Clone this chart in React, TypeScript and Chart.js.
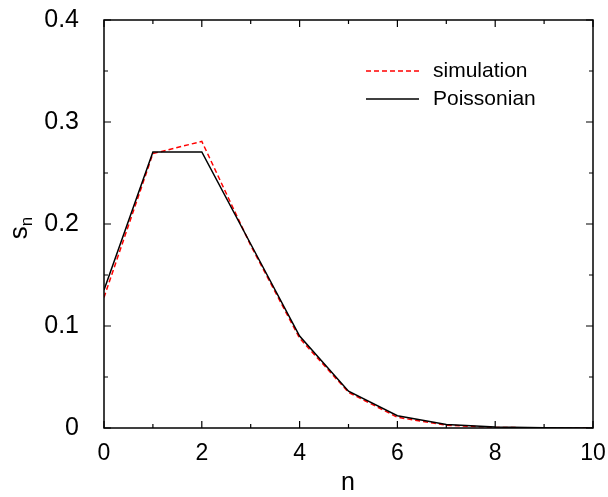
import React, { useEffect, useRef } from "react";
import { Chart, registerables } from "chart.js";

Chart.register(...registerables);

const nValues = [0, 1, 2, 3, 4, 5, 6, 7, 8, 9, 10];
const simulation = [0.128, 0.269, 0.281, 0.179, 0.088, 0.035, 0.0105, 0.0028, 0.0006, 0.0001, 0.0];
const poissonian = [0.1353, 0.2707, 0.2707, 0.1804, 0.0902, 0.0361, 0.012, 0.0034, 0.0009, 0.0002, 0.00004];
const legendLabels = ["simulation", "Poissonian"];
const xTitle = "n";
const yTitleMain = "s";
const yTitleSub = "n";

const FONT = "'Liberation Sans', Arial, sans-serif";

const framePlugin = {
  id: "frame",
  afterDraw(chart: any) {
    const { ctx, chartArea } = chart;
    const { left, right, top, bottom } = chartArea;
    const xs = chart.scales.x;
    const ys = chart.scales.y;
    ctx.save();
    ctx.strokeStyle = "#000";
    ctx.lineWidth = 1.5;
    ctx.strokeRect(left, top, right - left, bottom - top);
    ctx.lineWidth = 1.2;
    ctx.beginPath();
    for (let v = 0; v <= 10; v += 1) {
      const px = xs.getPixelForValue(v);
      const len = v % 2 === 0 ? 7 : 4;
      ctx.moveTo(px, bottom);
      ctx.lineTo(px, bottom - len);
      ctx.moveTo(px, top);
      ctx.lineTo(px, top + len);
    }
    for (let i = 0; i <= 8; i++) {
      const v = i * 0.05;
      const py = ys.getPixelForValue(v);
      const len = i % 2 === 0 ? 7 : 4;
      ctx.moveTo(left, py);
      ctx.lineTo(left + len, py);
      ctx.moveTo(right, py);
      ctx.lineTo(right - len, py);
    }
    ctx.stroke();

    // axis titles
    ctx.fillStyle = "#000";
    ctx.font = `25px ${FONT}`;
    ctx.textAlign = "center";
    ctx.textBaseline = "alphabetic";
    ctx.fillText(xTitle, 348, 490);
    ctx.save();
    ctx.translate(27, 228);
    ctx.rotate(-Math.PI / 2);
    ctx.textAlign = "left";
    ctx.font = `26px ${FONT}`;
    const w = ctx.measureText(yTitleMain).width;
    ctx.font = `17px ${FONT}`;
    const sw = ctx.measureText(yTitleSub).width;
    const total = w + sw;
    ctx.font = `26px ${FONT}`;
    ctx.fillText(yTitleMain, -total / 2, 0);
    ctx.font = `17px ${FONT}`;
    ctx.fillText(yTitleSub, -total / 2 + w, 5);
    ctx.restore();

    // legend
    const ds = chart.data.datasets;
    const rows = [71, 99];
    ds.forEach((d: any) => {
      const i = legendLabels.indexOf(d.label);
      const y = rows[i];
      ctx.save();
      ctx.strokeStyle = d.borderColor;
      ctx.lineWidth = d.borderWidth;
      ctx.setLineDash(d.borderDash || []);
      ctx.beginPath();
      ctx.moveTo(366, y);
      ctx.lineTo(419, y);
      ctx.stroke();
      ctx.restore();
      ctx.fillStyle = "#000";
      ctx.font = `21px ${FONT}`;
      ctx.textAlign = "left";
      ctx.textBaseline = "middle";
      ctx.fillText(legendLabels[i], 433, y);
    });
    ctx.restore();
  },
};

export default function App() {
  const ref = useRef<HTMLCanvasElement>(null);
  useEffect(() => {
    const chart = new Chart(ref.current!, {
      type: "line",
      data: {
        datasets: [
          {
            label: legendLabels[0],
            data: nValues.map((x, i) => ({ x, y: simulation[i] })),
            borderColor: "#ff0000",
            borderWidth: 1.5,
            borderDash: [5, 3],
            pointRadius: 0,
            tension: 0,
            order: 1,
          },
          {
            label: legendLabels[1],
            data: nValues.map((x, i) => ({ x, y: poissonian[i] })),
            borderColor: "#000000",
            borderWidth: 1.5,
            pointRadius: 0,
            tension: 0,
            order: 0,
          },
        ],
      },
      options: {
        animation: false,
        responsive: false,
        devicePixelRatio: 1,
        layout: { padding: { left: 0, right: 15, top: 20, bottom: 0 } },
        plugins: { legend: { display: false }, tooltip: { enabled: false } },
        scales: {
          x: {
            type: "linear",
            min: 0,
            max: 10,
            grid: { display: false },
            border: { display: false },
            ticks: {
              stepSize: 2,
              color: "#000",
              padding: 4,
              font: { size: 23, family: FONT },
              maxRotation: 0,
            },
            afterFit: (s: any) => {
              s.height = 69;
              s.paddingLeft = 0;
              s.paddingRight = 0;
            },
          },
          y: {
            min: 0,
            max: 0.4,
            grid: { display: false },
            border: { display: false },
            ticks: {
              stepSize: 0.1,
              color: "#000",
              padding: 17,
              font: { size: 25, family: FONT },
            },
            afterFit: (s: any) => {
              s.width = 104;
              s.paddingTop = 0;
              s.paddingBottom = 0;
            },
          },
        },
      },
      plugins: [framePlugin],
    } as any);
    return () => chart.destroy();
  }, []);
  return (
    <div style={{ position: "absolute", left: 0, top: 0, width: 608, height: 497, background: "#fff" }}>
      <canvas ref={ref} width={608} height={497} style={{ width: 608, height: 497 }} />
    </div>
  );
}
